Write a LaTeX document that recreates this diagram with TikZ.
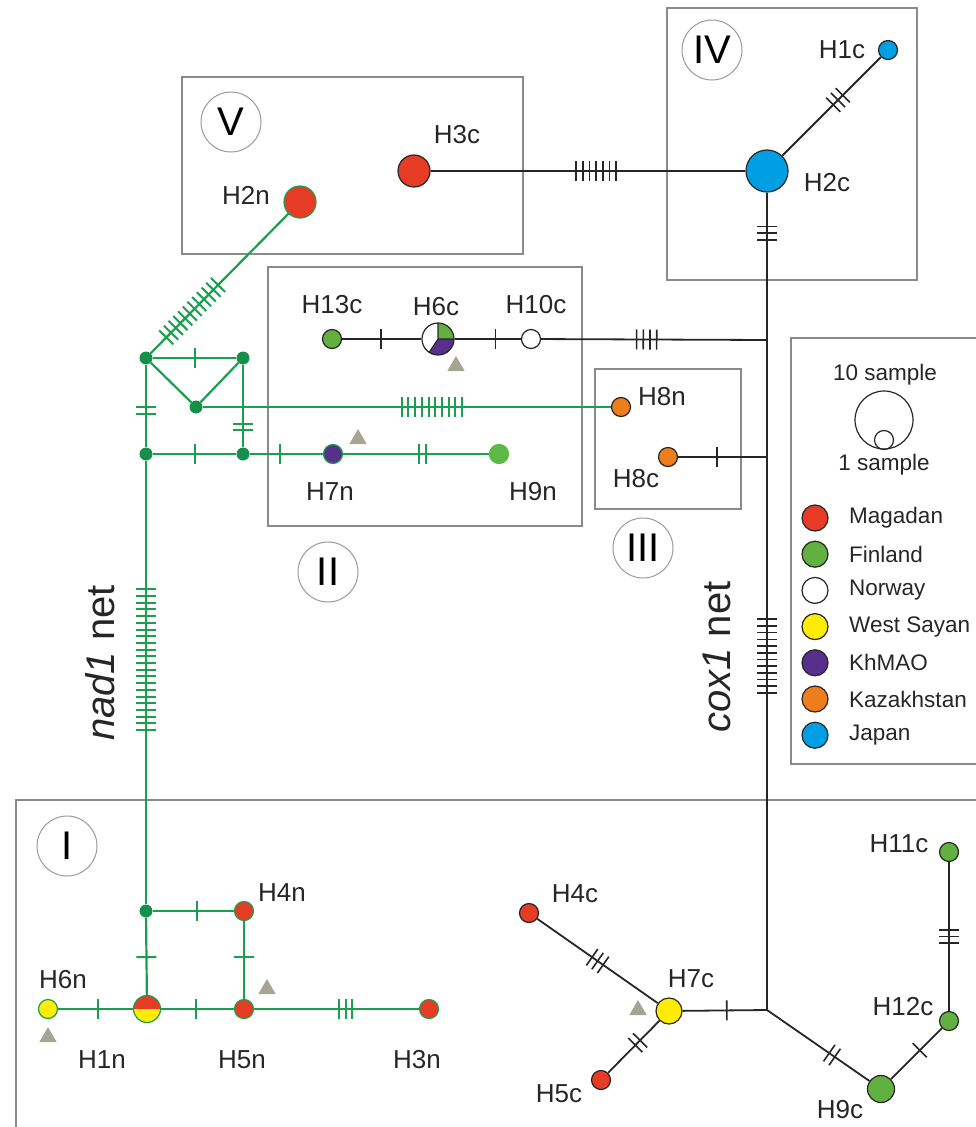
\documentclass[tikz,border=0pt]{standalone}
\usepackage{fontspec}
\setmainfont{Liberation Sans}
\usepackage{tikz}
\usetikzlibrary{calc,shapes.geometric}
\definecolor{mag}{HTML}{E63B25}
\definecolor{fin}{HTML}{62B040}
\definecolor{wsa}{HTML}{FFEC00}
\definecolor{khm}{HTML}{56308A}
\definecolor{kaz}{HTML}{EE7D1B}
\definecolor{jap}{HTML}{009EE2}
\definecolor{netg}{HTML}{1A9F4F}
\definecolor{netd}{HTML}{13904A}
\definecolor{ltg}{HTML}{5DB845}
\definecolor{trig}{HTML}{A6A493}
\definecolor{boxgray}{HTML}{8A8A8A}
\tikzset{
  frame/.style={draw=boxgray, line width=1.3pt},
  roman/.style={circle, draw=gray!80, line width=1pt, minimum size=60pt, inner sep=0pt, font=\fontsize{40}{40}\selectfont},
  hap/.style={circle, draw=black!85, line width=1.2pt, inner sep=0pt, minimum size=19pt},
  nhap/.style={hap, draw=netg},
  jn/.style={circle, fill=netd, inner sep=0pt, minimum size=13pt},
  tri/.style={regular polygon, regular polygon sides=3, fill=trig, inner sep=0pt, minimum size=20pt},
  lbl/.style={font=\fontsize{26}{30}\selectfont, inner sep=0pt, text=black!85},
  leg/.style={font=\fontsize{22.5}{26}\selectfont, inner sep=0pt, anchor=west, text=black!85},
  netlbl/.style={font=\fontsize{40}{40}\selectfont, inner sep=0pt, rotate=90, text=black!85},
  cline/.style={line width=1.8pt, draw=black!85},
  nline/.style={line width=2.2pt, draw=netg},
  ctick/.style={line width=1.6pt, black!85},
  ntick/.style={line width=2pt, netg},
}
\newcommand{\mut}[5]{%
  \coordinate (mc) at ($(#1)!#3!(#2)$);
  \foreach \k in {1,...,#4}{%
    \coordinate (mk) at ($(mc)!{(\k-(#4+1)/2)*6.7pt}!(#2)$);
    \draw[#5] ($(mk)!10pt!90:(#2)$) -- ($(mk)!10pt!-90:(#2)$);
  }}
\newcommand{\legrow}[3]{%
  \node[hap, fill=#2, minimum size=26pt] (sw#1) at (815,{-518-36.2*#1}) {};
  \node[leg] (lg#1) at (849,{-518-36.2*#1}) {#3};}

\begin{document}
\begin{tikzpicture}[x=1pt,y=1pt]
  \useasboundingbox (0,0) rectangle (976,-1127);
  \draw[frame] (182,-77) rectangle (523,-254);
  \draw[frame] (667,-8) rectangle (917,-280);
  \draw[frame] (268,-267) rectangle (582,-526);
  \draw[frame] (595,-369) rectangle (741,-509);
  \draw[frame] (791,-338) rectangle (995,-764);
  \draw[frame] (16,-800) rectangle (995,-1150);
  \node[roman] (rV) at (231,-122) {V};
  \node[roman] (rIV) at (712,-50) {IV};
  \node[roman] (rII) at (328,-572) {II};
  \node[roman] (rIII) at (643,-548) {III};
  \node[roman] (rI) at (67,-846) {I};

  \fill[fin] (438,-339) -- ++(0:16pt) arc (0:90:16pt) -- cycle;
  \fill[white] (438,-339) -- ++(90:16pt) arc (90:236:16pt) -- cycle;
  \fill[khm] (438,-339) -- ++(236:16pt) arc (236:360:16pt) -- cycle;
  \draw[black!85, line width=1.1pt] (438,-339) -- ++(0:16pt) (438,-339) -- ++(90:16pt) (438,-339) -- ++(236:16pt);
  \fill[mag] (147,-1009) ++(0:13.5pt) arc (0:180:13.5pt) -- cycle;
  \fill[wsa] (147,-1009) ++(180:13.5pt) arc (180:360:13.5pt) -- cycle;

  \node[hap, fill=mag, minimum size=32pt] (H3c) at (414,-171) {};
  \node[hap, fill=jap, minimum size=42pt] (H2c) at (767,-171) {};
  \node[hap, fill=jap] (H1c) at (888,-50) {};
  \node[hap, fill=fin] (H13c) at (332,-339) {};
  \node[hap, minimum size=32pt] (H6c) at (438,-339) {};
  \node[hap, fill=white] (H10c) at (531,-339) {};
  \node[hap, fill=kaz] (H8c) at (668,-457) {};
  \node[hap, fill=kaz] (H8n) at (621,-407) {};
  \node[hap, fill=wsa, minimum size=26pt] (H7c) at (669,-1011) {};
  \node[hap, fill=mag] (H4c) at (529,-913) {};
  \node[hap, fill=mag] (H5c) at (601,-1080) {};
  \node[hap, fill=fin, minimum size=27pt] (H9c) at (881,-1089) {};
  \node[hap, fill=fin] (H12c) at (949,-1021) {};
  \node[hap, fill=fin] (H11c) at (949,-852) {};
  \coordinate (cA) at (767,-340);
  \coordinate (cB) at (767,-457);
  \coordinate (J) at (767,-1010);

  \node[nhap, fill=mag, minimum size=32pt] (H2n) at (300,-202) {};
  \node[jn] (nA) at (146,-358) {};
  \node[jn] (nB) at (243,-358) {};
  \node[jn] (nC) at (196,-407) {};
  \node[jn] (nD) at (146,-454) {};
  \node[jn] (nE) at (243,-454) {};
  \node[nhap, fill=khm] (H7n) at (333,-454) {};
  \node[nhap, fill=ltg, draw=ltg] (H9n) at (499,-454) {};
  \node[jn] (nF) at (146,-911) {};
  \node[nhap, fill=mag] (H4n) at (244,-911) {};
  \node[nhap, minimum size=27pt] (H1n) at (147,-1009) {};
  \node[nhap, fill=mag] (H5n) at (244,-1009) {};
  \node[nhap, fill=wsa] (H6n) at (48,-1009) {};
  \node[nhap, fill=mag] (H3n) at (429,-1009) {};

  \draw[cline] (H3c) -- (H2c);
  \draw[cline] (H2c) -- (H1c);
  \draw[cline] (H2c) -- (J);
  \draw[cline] (H13c) -- (H6c);
  \draw[cline] (H6c) -- (H10c);
  \draw[cline] (H10c) -- (cA);
  \draw[cline] (H8c) -- (cB);
  \draw[cline] (H7c) -- (J);
  \draw[cline] (H4c) -- (H7c);
  \draw[cline] (H7c) -- (H5c);
  \draw[cline] (J) -- (H9c);
  \draw[cline] (H9c) -- (H12c);
  \draw[cline] (H12c) -- (H11c);

  \draw[nline] (nA) -- (H2n);
  \draw[nline] (nA) -- (nB);
  \draw[nline] (nA) -- (nC);
  \draw[nline] (nB) -- (nC);
  \draw[nline] (nC) -- (H8n);
  \draw[nline] (nA) -- (nD);
  \draw[nline] (nB) -- (nE);
  \draw[nline] (nD) -- (nE);
  \draw[nline] (nE) -- (H7n);
  \draw[nline] (H7n) -- (H9n);
  \draw[nline] (nD) -- (nF);
  \draw[nline] (nF) -- (H1n);
  \draw[nline] (nF) -- (H4n);
  \draw[nline] (H4n) -- (H5n);
  \draw[nline] (H6n) -- (H1n);
  \draw[nline] (H1n) -- (H5n);
  \draw[nline] (H5n) -- (H3n);

  \mut{H3c}{H2c}{0.516}{7}{ctick}
  \mut{H2c}{H1c}{0.587}{3}{ctick}
  \mut{H2c}{cA}{0.367}{3}{ctick}
  \mut{H10c}{cA}{0.49}{4}{ctick}
  \mut{H13c}{H6c}{0.46}{1}{ctick}
  \mut{H6c}{H10c}{0.62}{1}{ctick}
  \mut{H8c}{cB}{0.495}{1}{ctick}
  \mut{cB}{J}{0.36}{12}{ctick}
  \mut{H7c}{J}{0.59}{1}{ctick}
  \mut{H4c}{H7c}{0.49}{3}{ctick}
  \mut{H7c}{H5c}{0.46}{2}{ctick}
  \mut{J}{H9c}{0.57}{2}{ctick}
  \mut{H9c}{H12c}{0.57}{1}{ctick}
  \mut{H12c}{H11c}{0.5}{3}{ctick}

  \mut{nA}{H2n}{0.30}{12}{ntick}
  \mut{nA}{nB}{0.5}{1}{ntick}
  \mut{nA}{nD}{0.55}{2}{ntick}
  \mut{nB}{nE}{0.72}{2}{ntick}
  \mut{nC}{H8n}{0.555}{10}{ntick}
  \mut{nD}{nE}{0.5}{1}{ntick}
  \mut{nE}{H7n}{0.41}{1}{ntick}
  \mut{H7n}{H9n}{0.54}{2}{ntick}
  \mut{nD}{nF}{0.45}{22}{ntick}
  \mut{nF}{H4n}{0.52}{1}{ntick}
  \mut{nF}{H1n}{0.47}{1}{ntick}
  \mut{H4n}{H5n}{0.47}{1}{ntick}
  \mut{H6n}{H1n}{0.5}{1}{ntick}
  \mut{H1n}{H5n}{0.5}{1}{ntick}
  \mut{H5n}{H3n}{0.55}{3}{ntick}

  \node[tri] (t1) at (456,-366) {};
  \node[tri] (t2) at (358,-439) {};
  \node[tri] (t3) at (267,-989) {};
  \node[tri] (t4) at (48,-1037) {};
  \node[tri] (t5) at (638,-1010) {};

  \node[lbl] (lH3c) at (457,-135) {H3c};
  \node[lbl] (lH1c) at (842,-50) {H1c};
  \node[lbl] (lH2c) at (827,-183) {H2c};
  \node[lbl] (lH13c) at (332,-305) {H13c};
  \node[lbl] (lH6c) at (436,-307) {H6c};
  \node[lbl] (lH10c) at (536,-305) {H10c};
  \node[lbl] (lH8n) at (662,-397) {H8n};
  \node[lbl] (lH8c) at (636,-479) {H8c};
  \node[lbl] (lH2n) at (246,-195) {H2n};
  \node[lbl] (lH7n) at (330,-492) {H7n};
  \node[lbl] (lH9n) at (533,-492) {H9n};
  \node[lbl] (lH4n) at (282,-893) {H4n};
  \node[lbl] (lH6n) at (63,-980) {H6n};
  \node[lbl] (lH1n) at (102,-1060) {H1n};
  \node[lbl] (lH5n) at (242,-1060) {H5n};
  \node[lbl] (lH3n) at (417,-1060) {H3n};
  \node[lbl] (lH4c) at (575,-894) {H4c};
  \node[lbl] (lH7c) at (691,-979) {H7c};
  \node[lbl] (lH5c) at (559,-1094) {H5c};
  \node[lbl] (lH9c) at (840,-1110) {H9c};
  \node[lbl] (lH12c) at (903,-1007) {H12c};
  \node[lbl] (lH11c) at (899,-844) {H11c};
  \node[netlbl] (nadlbl) at (100,-663) {\itshape nad1\upshape{} net};
  \node[netlbl] (coxlbl) at (717,-657) {\itshape cox1\upshape{} net};

  \node[leg, anchor=center] (ten) at (885,-375) {10 sample};
  \node[hap, minimum size=58pt] (legbig) at (884,-420) {};
  \node[hap, minimum size=19pt] (legsmall) at (884,-440) {};
  \node[leg, anchor=center] (one) at (884,-465) {1 sample};
  \legrow{0}{mag}{Magadan}
  \legrow{1}{fin}{Finland}
  \legrow{2}{white}{Norway}
  \legrow{3}{wsa}{West Sayan}
  \legrow{4}{khm}{KhMAO}
  \legrow{5}{kaz}{Kazakhstan}
  \legrow{6}{jap}{Japan}
\end{tikzpicture}
\end{document}
